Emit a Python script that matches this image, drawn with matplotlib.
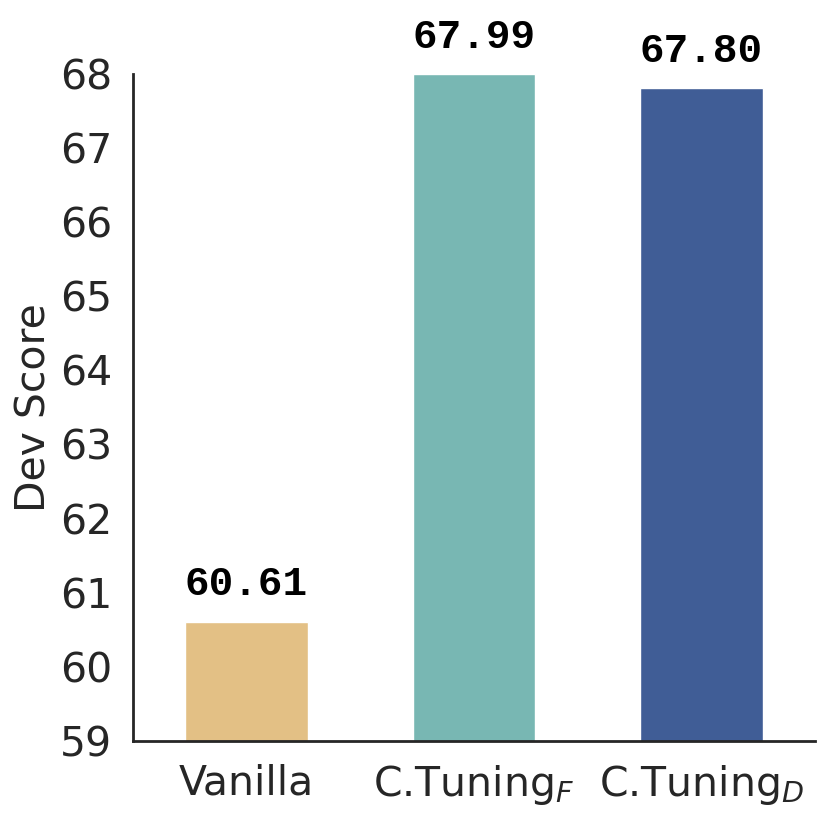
import matplotlib
matplotlib.use('Agg')
import matplotlib.pyplot as plt
import seaborn as sns

sns.set_style('white')

methods = ['Vanilla', r'C.Tuning$_F$', r'C.Tuning$_D$']
scores = [60.61, 67.99, 67.80]
colors = ['#E3C085', '#78B7B3', '#405D96']
yticks = [59, 60, 61, 62, 63, 64, 65, 66, 67, 68]

fig = plt.figure(figsize=(8.3, 8.18), dpi=100)
ax = fig.add_axes([0.160, 0.094, 0.822, 0.816])

x = range(len(methods))
ax.bar(x, scores, width=0.54, color=colors, bottom=0)
for i, v in enumerate(scores):
    ax.text(i, v + 0.25, '%.2f' % v, ha='center', va='bottom',
            family='Liberation Mono', weight='bold', fontsize=29.5, color='black')

ax.set_xlim(-0.5, 2.5)
ax.set_ylim(59, 68)
ax.set_yticks(yticks)
ax.set_xticks(list(x))
ax.set_xticklabels(methods)
ax.tick_params(axis='both', labelsize=29.5, colors='#262626', length=0)
ax.tick_params(axis='y', pad=15)
ax.tick_params(axis='x', pad=16)
ax.set_ylabel('Dev Score', fontsize=29.5, color='#262626', labelpad=4)
for s in ['top', 'right']:
    ax.spines[s].set_visible(False)
for s in ['left', 'bottom']:
    ax.spines[s].set_color('#262626')
    ax.spines[s].set_linewidth(2)

fig.savefig('out.png', dpi=100)
